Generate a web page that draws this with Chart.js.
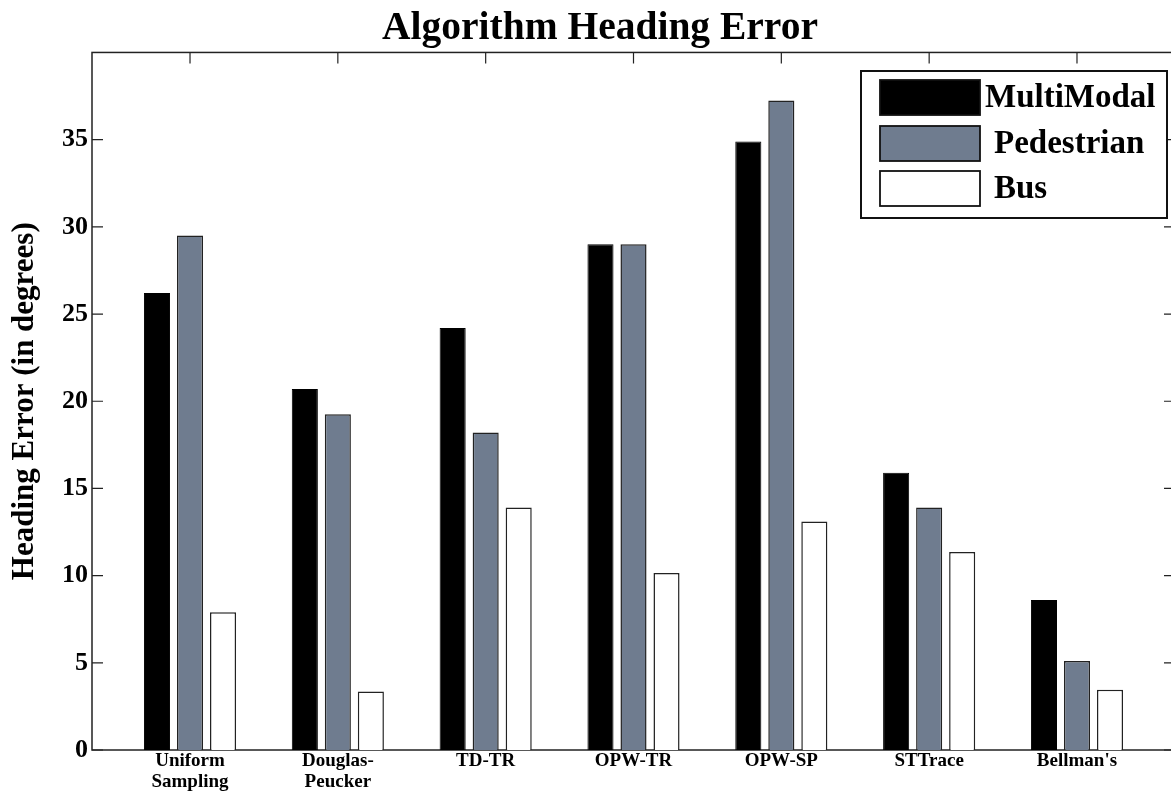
<!DOCTYPE html>
<html lang="en">
<head>
  <meta charset="UTF-8">
  <title>Algorithm Heading Error</title>
  <script src="https://cdn.jsdelivr.net/npm/chart.js"></script>
  <style>
    html, body {
      margin: 0;
      padding: 0;
      background: #fff;
      overflow: hidden;
    }
    .wrap {
      width: 1200px;
      height: 791px;
    }
  </style>
</head>
<body>
  <div class="wrap">
    <canvas id="headingChart"></canvas>
  </div>

  <script>
    const categories = [
      ['Uniform', 'Sampling'],
      ['Douglas-', 'Peucker'],
      'TD-TR',
      'OPW-TR',
      'OPW-SP',
      'STTrace',
      "Bellman's"
    ];
    const seriesNames = ['MultiModal', 'Pedestrian', 'Bus'];
    const multiModal = [26.2, 20.7, 24.2, 29.0, 34.9, 15.9, 8.6];
    const pedestrian = [29.5, 19.25, 18.2, 29.0, 37.25, 13.9, 5.1];
    const bus = [7.9, 3.35, 13.9, 10.15, 13.1, 11.35, 3.45];
    const yTicks = [0, 5, 10, 15, 20, 25, 30, 35];

    const serif = '"Liberation Serif", "Times New Roman", serif';
    const toPoints = arr => arr.map((v, i) => ({ x: i, y: v }));

    // axes box + inward ticks, drawn under the bars like matlab does
    const axesBox = {
      id: 'axesBox',
      beforeDatasetsDraw(chart) {
        const { ctx, chartArea: a, scales } = chart;
        ctx.save();
        ctx.strokeStyle = '#222';
        ctx.lineWidth = 1.5;
        ctx.strokeRect(a.left, a.top, a.right - a.left, a.bottom - a.top);
        ctx.lineWidth = 1.2;
        ctx.beginPath();
        yTicks.forEach(v => {
          const y = scales.y.getPixelForValue(v);
          ctx.moveTo(a.left, y); ctx.lineTo(a.left + 11, y);
          ctx.moveTo(a.right, y); ctx.lineTo(a.right - 11, y);
        });
        categories.forEach((c, i) => {
          const x = scales.x.getPixelForValue(i);
          ctx.moveTo(x, a.top); ctx.lineTo(x, a.top + 11);
          ctx.moveTo(x, a.bottom); ctx.lineTo(x, a.bottom - 11);
        });
        ctx.stroke();
        ctx.restore();
      }
    };

    const boxLegend = {
      id: 'boxLegend',
      afterDraw(chart) {
        const { ctx } = chart;
        ctx.save();
        ctx.fillStyle = '#fff';
        ctx.fillRect(861, 71, 306, 147);
        ctx.strokeStyle = '#111';
        ctx.lineWidth = 2;
        ctx.strokeRect(861, 71, 306, 147);
        const rows = [80, 126, 171];
        chart.data.datasets.forEach((ds, i) => {
          ctx.fillStyle = ds.backgroundColor;
          ctx.fillRect(880, rows[i], 100, 35);
          ctx.strokeStyle = '#111';
          ctx.lineWidth = 1.8;
          ctx.strokeRect(880, rows[i], 100, 35);
          ctx.fillStyle = '#000';
          ctx.font = 'bold 33px ' + serif;
          ctx.textBaseline = 'middle';
          ctx.fillText(ds.label, i === 0 ? 985 : 994, rows[i] + 18);
        });
        ctx.restore();
      }
    };

    new Chart(document.getElementById('headingChart'), {
      type: 'bar',
      data: {
        datasets: [
          { label: seriesNames[0], data: toPoints(multiModal), backgroundColor: '#000000', borderColor: '#000000', borderWidth: 1 },
          { label: seriesNames[1], data: toPoints(pedestrian), backgroundColor: '#6f7c8f', borderColor: '#222222', borderWidth: 1.5 },
          { label: seriesNames[2], data: toPoints(bus), backgroundColor: '#ffffff', borderColor: '#222222', borderWidth: 1.5 }
        ]
      },
      options: {
        responsive: true,
        maintainAspectRatio: false,
        animation: false,
        categoryPercentage: 0.67,
        barPercentage: 0.79,
        layout: { padding: { top: 3, right: 0, left: 0, bottom: 0 } },
        plugins: {
          legend: { display: false },
          tooltip: { enabled: false },
          title: {
            display: true,
            text: 'Algorithm Heading Error',
            color: '#000',
            font: { family: serif, size: 39.5, weight: 'bold', lineHeight: 1.1 },
            padding: { top: 4, bottom: 2 }
          }
        },
        scales: {
          x: {
            type: 'linear',
            offset: false,
            min: -0.663,
            max: 6.663,
            afterBuildTicks: s => { s.ticks = categories.map((c, i) => ({ value: i })); },
            afterFit: s => { s.height = 41; },
            grid: { display: false, drawTicks: false },
            border: { display: false },
            ticks: {
              color: '#000',
              padding: 1,
              maxRotation: 0,
              autoSkip: false,
              font: { family: serif, size: 19, weight: 'bold', lineHeight: 1.1 },
              callback: v => categories[v]
            }
          },
          y: {
            min: 0,
            max: 40,
            afterBuildTicks: s => { s.ticks = yTicks.map(v => ({ value: v })); },
            afterFit: s => { s.width = 92; },
            grid: { display: false, drawTicks: false },
            border: { display: false },
            title: {
              display: true,
              text: 'Heading Error (in degrees)',
              color: '#000',
              font: { family: serif, size: 31, weight: 'bold' },
              padding: { top: 6, bottom: 0 }
            },
            ticks: {
              color: '#000',
              padding: 4,
              font: { family: serif, size: 26, weight: 'bold' }
            }
          },
          yRight: {
            position: 'right',
            min: 0,
            max: 40,
            afterFit: s => { s.width = 25; },
            grid: { display: false, drawTicks: false },
            border: { display: false },
            ticks: { display: false }
          }
        }
      },
      plugins: [axesBox, boxLegend]
    });
  </script>
</body>
</html>
